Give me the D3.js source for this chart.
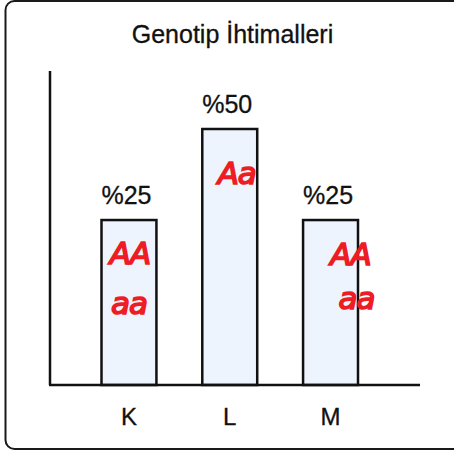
<!DOCTYPE html>
<html>
<head>
<meta charset="utf-8">
<script src="https://cdn.jsdelivr.net/npm/d3@7"></script>
<style>
  html, body { margin: 0; padding: 0; background: #fff; }
  svg { display: block; }
</style>
</head>
<body>
<div id="chart"></div>
<script>
const width = 454;
const height = 452;

// data
const categories = ["K", "L", "M"];
const values = [25, 50, 25];
const valueLabels = ["%25", "%50", "%25"];
const genotypes = [["AA", "aa"], ["Aa"], ["AA", "aa"]];
const title = "Genotip İhtimalleri";

// hand-written note nudges (layout only)
const noteShift = [[1, 0], [7, 0], [20, 26]];
const noteTop = [44, 55, 45];
const noteGap = [50, 0, 44];

const baseY = 385;

const svg = d3
  .select("#chart")
  .append("svg")
  .attr("width", width)
  .attr("height", height);

// outer frame (right side runs off the picture)
svg
  .append("rect")
  .attr("x", 5.5)
  .attr("y", 1)
  .attr("width", 470)
  .attr("height", 448)
  .attr("rx", 9)
  .attr("fill", "#fff")
  .attr("stroke", "#1a1a1a")
  .attr("stroke-width", 2);

const x = d3
  .scaleBand()
  .domain(categories)
  .range([101.5, 358])
  .paddingInner(0.455)
  .paddingOuter(0);

const y = d3.scaleLinear().domain([-20.3, 50]).range([baseY, 129]);

const font = "Liberation Sans, Arial, sans-serif";

svg
  .append("text")
  .attr("x", 232.5)
  .attr("y", 43)
  .attr("text-anchor", "middle")
  .style("font-family", font)
  .style("font-size", "25px")
  .style("fill", "#111")
  .style("stroke", "#111")
  .style("stroke-width", 0.3)
  .text(title);

const rows = categories.map((c, i) => ({
  cat: c,
  value: values[i],
  label: valueLabels[i],
  notes: genotypes[i],
  i: i,
}));

svg
  .selectAll(".bar")
  .data(rows)
  .join("rect")
  .classed("bar", true)
  .attr("x", (d) => x(d.cat))
  .attr("y", (d) => y(d.value))
  .attr("width", x.bandwidth())
  .attr("height", (d) => baseY - y(d.value))
  .attr("fill", "#edf4fd")
  .attr("stroke", "#111")
  .attr("stroke-width", 2.5);

// axes
svg
  .append("line")
  .attr("x1", 50)
  .attr("x2", 50)
  .attr("y1", 71)
  .attr("y2", baseY)
  .attr("stroke", "#111")
  .attr("stroke-width", 2.5);

svg
  .append("line")
  .attr("x1", 49)
  .attr("x2", 420)
  .attr("y1", baseY)
  .attr("y2", baseY)
  .attr("stroke", "#111")
  .attr("stroke-width", 2.5);

svg
  .selectAll(".vlabel")
  .data(rows)
  .join("text")
  .classed("vlabel", true)
  .attr("x", (d) => x(d.cat) + x.bandwidth() / 2 - 2.5)
  .attr("y", (d) => y(d.value) - 16)
  .attr("text-anchor", "middle")
  .style("font-family", font)
  .style("font-size", "25px")
  .style("fill", "#111")
  .style("stroke", "#111")
  .style("stroke-width", 0.3)
  .text((d) => d.label);

svg
  .selectAll(".tick-label")
  .data(rows)
  .join("text")
  .classed("tick-label", true)
  .attr("x", (d) => x(d.cat) + x.bandwidth() / 2)
  .attr("y", 425)
  .attr("text-anchor", "middle")
  .style("font-family", font)
  .style("font-size", "24px")
  .style("fill", "#111")
  .style("stroke", "#111")
  .style("stroke-width", 0.3)
  .text((d) => d.cat);

// red hand-written genotypes
const notes = svg
  .selectAll(".notes")
  .data(rows)
  .join("g")
  .classed("notes", true);

notes
  .selectAll("text")
  .data((d) =>
    d.notes.map((n, k) => ({
      text: n,
      x: x(d.cat) + x.bandwidth() / 2 + noteShift[d.i][k],
      y: y(d.value) + noteTop[d.i] + k * noteGap[d.i],
    }))
  )
  .join("text")
  .attr("x", (d) => d.x)
  .attr("y", (d) => d.y)
  .attr("text-anchor", "middle")
  .style("font-family", "DejaVu Sans, sans-serif")
  .style("font-style", "italic")
  .style("font-size", "31px")
  .style("letter-spacing", "-1px")
  .style("fill", "#ee1c24")
  .style("stroke", "#ee1c24")
  .style("stroke-width", 1.6)
  .text((d) => d.text);
</script>
</body>
</html>
